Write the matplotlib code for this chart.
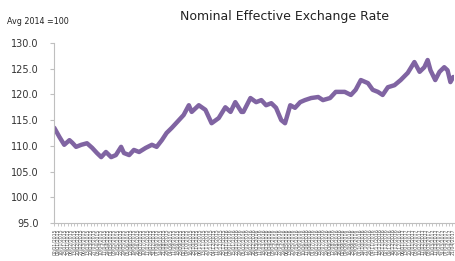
import matplotlib
matplotlib.use("Agg")
import matplotlib.pyplot as plt
import pandas as pd

title = "Nominal Effective Exchange Rate"
unit_label = "Avg 2014 =100"

dates = ["2015-01-02", "2015-01-13", "2015-01-23", "2015-02-03", "2015-02-09", "2015-02-17",
         "2015-02-28", "2015-03-12", "2015-03-23", "2015-04-02", "2015-04-11", "2015-04-21",
         "2015-05-02", "2015-05-12", "2015-05-23", "2015-05-29", "2015-06-09", "2015-06-19",
         "2015-06-30", "2015-07-14", "2015-07-27", "2015-08-06", "2015-08-17", "2015-08-27",
         "2015-09-07", "2015-09-22", "2015-10-02", "2015-10-13", "2015-10-19", "2015-11-03",
         "2015-11-17", "2015-11-30", "2015-12-15", "2015-12-29", "2016-01-09", "2016-01-19",
         "2016-02-01", "2016-02-05", "2016-02-20", "2016-03-03", "2016-03-14", "2016-03-24",
         "2016-04-04", "2016-04-14", "2016-04-25", "2016-05-03", "2016-05-14", "2016-05-24",
         "2016-06-04", "2016-06-14", "2016-06-27", "2016-07-12", "2016-07-22", "2016-08-06",
         "2016-08-18", "2016-09-06", "2016-09-19", "2016-09-29", "2016-10-10", "2016-10-25",
         "2016-11-04", "2016-11-15", "2016-11-25", "2016-12-06", "2016-12-20", "2017-01-02",
         "2017-01-17", "2017-01-31", "2017-02-11", "2017-02-21", "2017-02-28", "2017-03-06",
         "2017-03-16", "2017-03-25", "2017-04-04", "2017-04-11", "2017-04-17", "2017-04-23"]

neer = [113.5, 111.7, 110.2, 111.1, 110.6, 109.8,
        110.2, 110.5, 109.6, 108.6, 107.8, 108.8,
        107.8, 108.2, 109.8, 108.6, 108.2, 109.2,
        108.8, 109.6, 110.2, 109.8, 111.1, 112.5,
        113.5, 115.0, 116.0, 117.9, 116.6, 117.9,
        117.0, 114.4, 115.4, 117.5, 116.6, 118.5,
        116.6, 116.6, 119.3, 118.5, 118.9, 117.9,
        118.3, 117.4, 115.0, 114.4, 117.9, 117.4,
        118.5, 118.9, 119.3, 119.5, 118.9, 119.3,
        120.5, 120.5, 119.9, 120.9, 122.8, 122.2,
        120.9, 120.5, 119.9, 121.4, 121.8, 122.8,
        124.2, 126.3, 124.4, 125.3, 126.7, 124.7,
        122.8, 124.4, 125.3, 124.7, 122.4, 123.4]

y_ticks = [95.0, 100.0, 105.0, 110.0, 115.0, 120.0, 125.0, 130.0]
tick_dates = pd.date_range("2015-01-02", "2017-04-23", freq="7D")
tick_labels = [d.strftime("%d/%m/%Y") for d in tick_dates]

fig = plt.figure(figsize=(4.56, 2.61), dpi=100)
ax = fig.add_axes([0.118, 0.146, 0.877, 0.689])

x = pd.to_datetime(dates)
ax.plot(x, neer, color="#8064A2", lw=3.2, solid_capstyle="round", solid_joinstyle="round")

ax.set_ylim(95, 130)
ax.set_yticks(y_ticks)
ax.set_yticklabels([f"{v:.1f}" for v in y_ticks], fontsize=7, color="#333333")
ax.set_xlim(pd.Timestamp("2015-01-01"), pd.Timestamp("2017-04-24"))
ax.set_xticks(tick_dates)
ax.set_xticklabels(tick_labels, rotation=90, fontsize=3.3, color="#555555")

for s in ["top", "right"]:
    ax.spines[s].set_visible(False)
for s in ["left", "bottom"]:
    ax.spines[s].set_color("#BFBFBF")
    ax.spines[s].set_linewidth(0.8)
ax.tick_params(axis="y", length=3, color="#BFBFBF", width=0.8, pad=8)
ax.tick_params(axis="x", length=2.5, color="#BFBFBF", width=0.6, pad=1.5)

fig.text(0.625, 0.935, title, ha="center", va="center", fontsize=9, color="#222222")
fig.text(0.015, 0.918, unit_label, ha="left", va="center", fontsize=5.8, color="#222222")

fig.savefig("out.png", dpi=100)
